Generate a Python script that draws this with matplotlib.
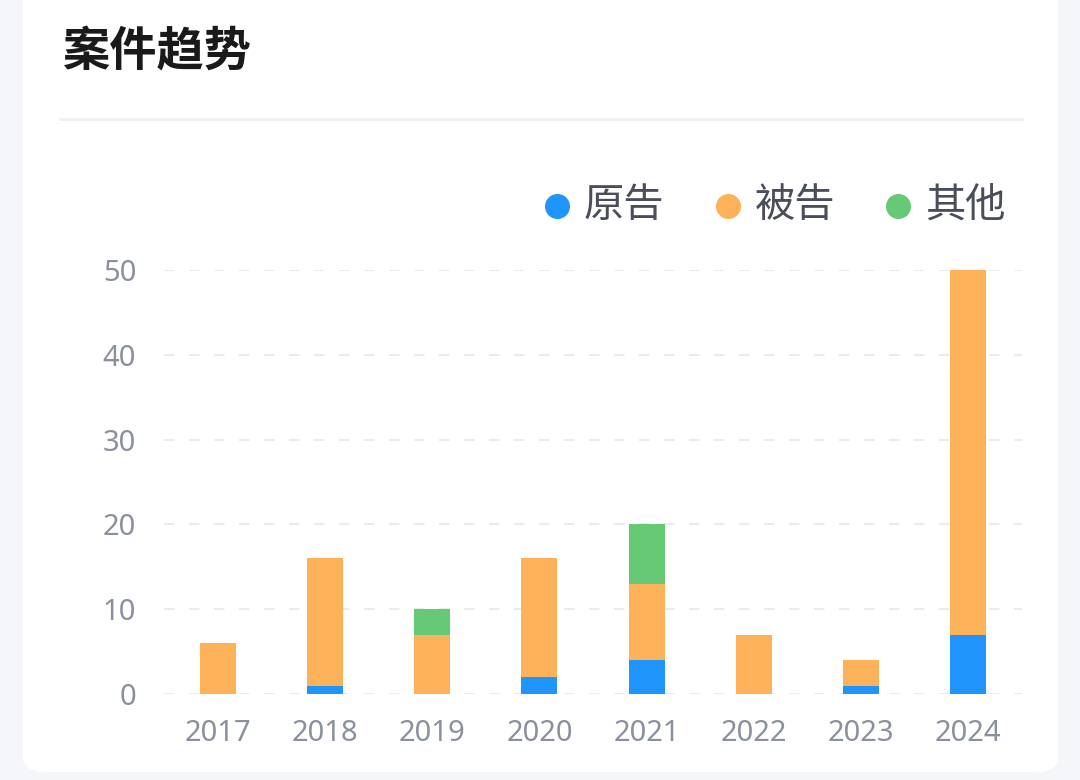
import numpy as np
import matplotlib.pyplot as plt
from matplotlib.patches import FancyBboxPatch
from matplotlib.lines import Line2D

plt.rcParams['font.family'] = ['Noto Sans CJK SC', 'DejaVu Sans']

years = ['2017', '2018', '2019', '2020', '2021', '2022', '2023', '2024']
plaintiff = [0, 1, 0, 2, 4, 0, 1, 7]
defendant = [6, 15, 7, 14, 9, 7, 3, 43]
other = [0, 0, 3, 0, 7, 0, 0, 0]
series_names = ['原告', '被告', '其他']
colors = ['#1f95fb', '#fdb259', '#66c975']

W, H = 1080, 780
fig = plt.figure(figsize=(W / 100, H / 100), dpi=100)
fig.patch.set_facecolor('#f5f6fa')

# white card behind everything
card = FancyBboxPatch((23 / W, 8 / H), (1058 - 23) / W, 1.2, boxstyle='round,pad=0,rounding_size=0.02',
                      transform=fig.transFigure, facecolor='white', edgecolor='none', zorder=-5)
fig.patches.append(card)

fig.text(62 / W, 1 - 52 / H, '案件趋势', fontsize=34, fontweight='bold', color='#1a1a1a',
         va='center', ha='left')
fig.add_artist(Line2D([60 / W, 1022 / W], [1 - 119 / H, 1 - 119 / H], color='#eeeff2', lw=2))

# axes: y=0 at 694px, y=50 at 270px
ax = fig.add_axes([164 / W, 1 - 694 / H, (1022 - 164) / W, (694 - 270) / H])
ax.set_facecolor('none')
x = np.arange(len(years))
bw = 0.335
p = np.array(plaintiff)
d = np.array(defendant)
o = np.array(other)
ax.bar(x, p, bw, color=colors[0], zorder=3)
ax.bar(x, d, bw, bottom=p, color=colors[1], zorder=3)
ax.bar(x, o, bw, bottom=p + d, color=colors[2], zorder=3)

ax.set_xlim(-0.5, len(years) - 0.5)
ax.set_ylim(0, 50)
ax.set_yticks([0, 10, 20, 30, 40, 50])
ax.set_xticks(x)
ax.set_xticklabels(years)
ax.tick_params(axis='both', length=0, labelsize=21, labelcolor='#8a909e')
ax.tick_params(axis='x', pad=18)
ax.tick_params(axis='y', pad=20)
for lbl in ax.get_xticklabels() + ax.get_yticklabels():
    lbl.set_fontfamily(['Noto Sans', 'DejaVu Sans'])
for s in ax.spines.values():
    s.set_visible(False)
ax.yaxis.grid(True, color='#e9ebef', linestyle=(0, (5, 7)), lw=1.5, zorder=0)
ax.set_axisbelow(True)

# legend
for cx, name, c in zip([557, 728, 898], series_names, colors):
    fig.add_artist(Line2D([cx / W], [1 - 206 / H], marker='o', markersize=17, color=c, lw=0))
    fig.text((cx + 27) / W, 1 - 206 / H, name, fontsize=29, color='#4a4e5a', va='center', ha='left')

fig.savefig('out.png', dpi=100, facecolor=fig.get_facecolor())
